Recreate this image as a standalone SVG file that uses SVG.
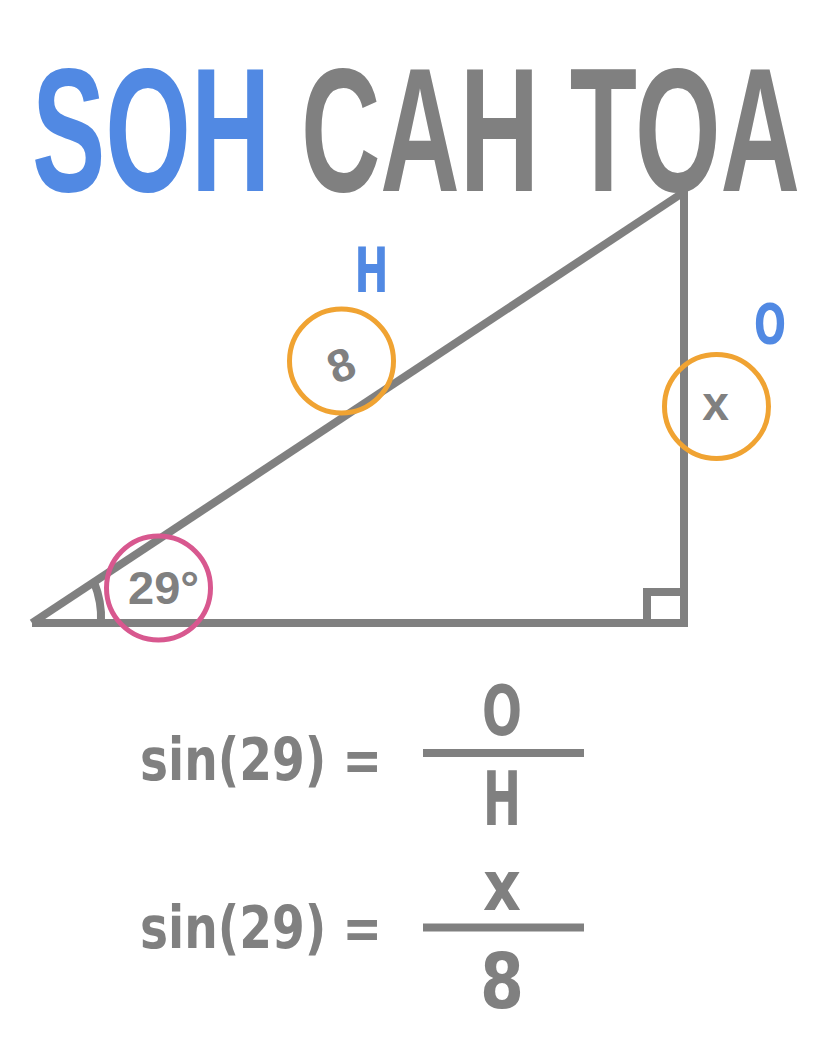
<svg xmlns="http://www.w3.org/2000/svg" width="830" height="1040" viewBox="0 0 830 1040">
<style>
.ln{stroke:#808080;stroke-width:8;fill:none;stroke-linecap:butt}
.ring{fill:none;stroke-width:5}
.sans{font-family:"Liberation Sans",Arial,sans-serif;font-weight:bold;fill:#808080}
.hand{font-family:"DejaVu Sans Condensed","DejaVu Sans",sans-serif;font-weight:bold;fill:#808080}
.blue{fill:#5189E3}
</style>
<rect width="830" height="1040" fill="#ffffff"/>
<g id="title">
<text class="sans" font-size="176" transform="translate(32,191) scale(0.625,1)"><tspan class="blue">SOH</tspan> CAH TOA</text>
</g>
<g id="triangle">
<path class="ln" d="M32,623 L684,623 L684,188"/>
<path class="ln" d="M32,623 L684,192"/>
<path class="ln" d="M647,624 L647,592 L683,592"/>
<path class="ln" stroke-width="5" d="M94,582 Q102,602 101,622"/>
</g>
<g id="angle">
<circle class="ring" cx="158.5" cy="588" r="52" stroke="#D8588F"/>
<text class="sans" font-size="47" x="128" y="604">29°</text>
</g>
<g id="hyp">
<circle class="ring" cx="341.5" cy="361" r="52" stroke="#F0A332"/>
<text class="sans" font-size="46" x="341" y="381" text-anchor="middle" transform="rotate(-22 341 365)">8</text>
<text class="hand blue" font-size="62" x="371.5" y="292" text-anchor="middle" textLength="34" lengthAdjust="spacingAndGlyphs">H</text>
</g>
<g id="opp">
<circle class="ring" cx="716.5" cy="406.5" r="52" stroke="#F0A332"/>
<text class="sans" font-size="48" x="715.5" y="420" text-anchor="middle">x</text>
<text class="hand blue" font-size="56" x="770" y="343" text-anchor="middle" textLength="32" lengthAdjust="spacingAndGlyphs">O</text>
</g>
<g id="eq1">
<text class="hand" font-size="58" x="140" y="780" textLength="242" lengthAdjust="spacingAndGlyphs">sin(29) =</text>
<text class="hand" font-size="70" x="502" y="735" text-anchor="middle" textLength="40" lengthAdjust="spacingAndGlyphs">O</text>
<text class="hand" font-size="75" x="502" y="825" text-anchor="middle" textLength="38" lengthAdjust="spacingAndGlyphs">H</text>
</g>
<g id="eq2">
<text class="hand" font-size="58" x="140" y="948" textLength="242" lengthAdjust="spacingAndGlyphs">sin(29) =</text>
<text class="hand" font-size="70" x="502" y="910" text-anchor="middle" textLength="38" lengthAdjust="spacingAndGlyphs">x</text>
<text class="hand" font-size="76" x="502" y="1008" text-anchor="middle" textLength="44" lengthAdjust="spacingAndGlyphs">8</text>
</g>
<g id="connectors">
<line class="ln" stroke-width="9" x1="423" y1="753" x2="584" y2="753"/>
<line class="ln" stroke-width="9" x1="423" y1="927.5" x2="584" y2="927.5"/>
</g>
</svg>
